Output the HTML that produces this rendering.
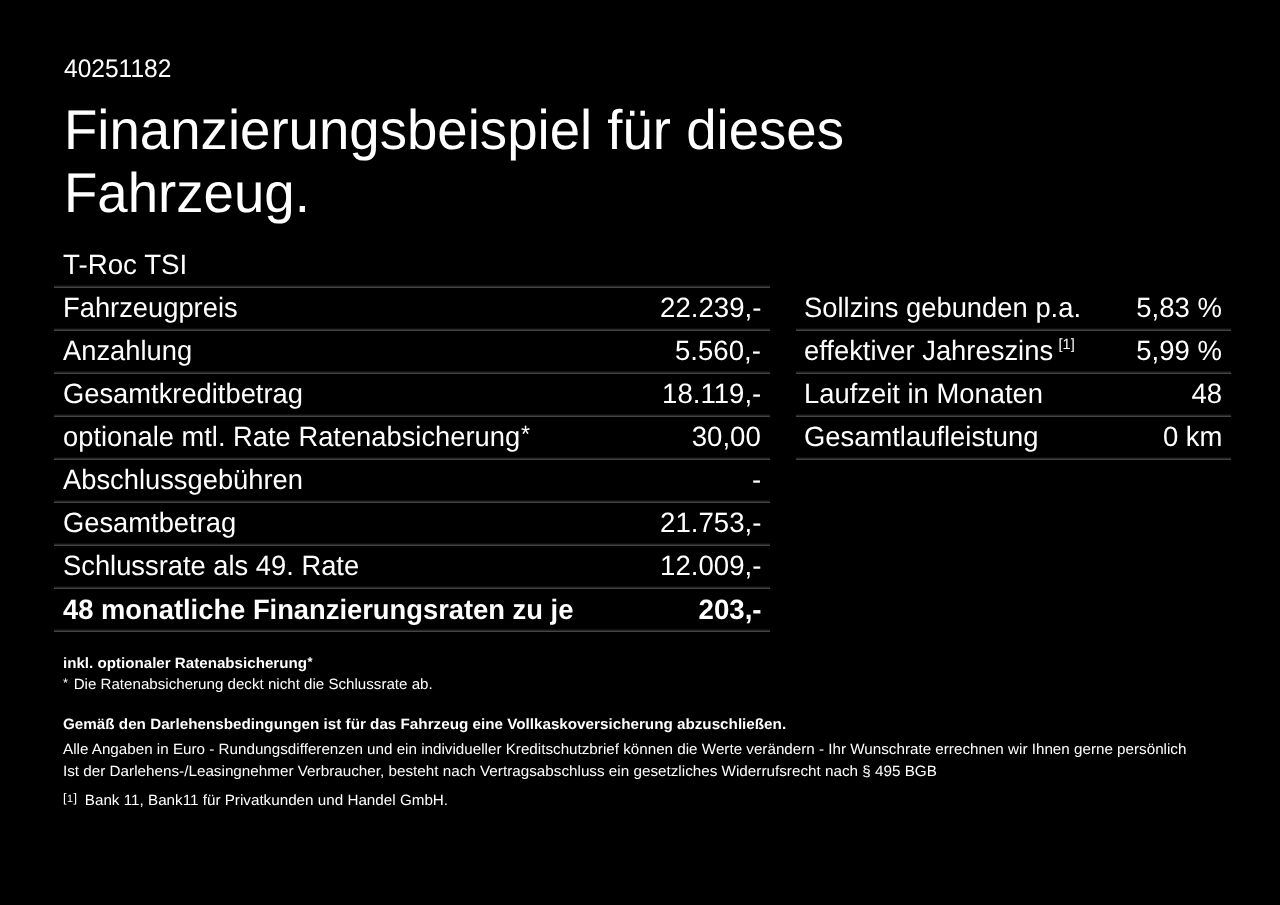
<!DOCTYPE html>
<html lang="de">
<head>
<meta charset="utf-8">
<title>Finanzierungsbeispiel</title>
<style>
html,body{margin:0;padding:0;background:#000;}
body{text-rendering:geometricPrecision;width:1280px;height:905px;overflow:hidden;position:relative;color:#fff;font-family:"Liberation Sans",sans-serif;}
.t{position:absolute;white-space:nowrap;will-change:transform;}
.t>span{display:inline-block;}
.ln{position:absolute;height:3px;background:linear-gradient(#0e0e0e 33.3%, #262626 33.3%, #262626 66.6%, #444444 66.6%);}
.sup1{display:inline-block;font-size:14.9px;vertical-align:top;position:relative;top:-5.3px;margin-left:5.5px;}
.fnb{display:inline-block;font-size:12.5px;position:relative;top:-3px;margin-right:7px;letter-spacing:0.5px;}
.ast{font-size:0.85em;position:relative;top:-0.19em;margin-left:0.04em;}
.a0{margin-left:0;margin-right:1.4px;}
.fn1{font-size:10.5px;vertical-align:top;position:relative;top:1.3px;}
</style>
</head>
<body>
<div class="ln" style="left:54px;top:285px;width:716px;"></div>
<div class="ln" style="left:54px;top:328px;width:716px;"></div>
<div class="ln" style="left:54px;top:371px;width:716px;"></div>
<div class="ln" style="left:54px;top:414px;width:716px;"></div>
<div class="ln" style="left:54px;top:457px;width:716px;"></div>
<div class="ln" style="left:54px;top:500px;width:716px;"></div>
<div class="ln" style="left:54px;top:543px;width:716px;"></div>
<div class="ln" style="left:54px;top:586px;width:716px;"></div>
<div class="ln" style="left:54px;top:629px;width:716px;"></div>
<div class="ln" style="left:796px;top:328px;width:435px;"></div>
<div class="ln" style="left:796px;top:371px;width:435px;"></div>
<div class="ln" style="left:796px;top:414px;width:435px;"></div>
<div class="ln" style="left:796px;top:457px;width:435px;"></div>
<div class="t" style="left:63.9px;top:57.00px;font-size:25.4px;line-height:25.4px;"><span id="num" style="transform:scaleX(0.967);transform-origin:left;">40251182</span></div>
<div class="t" style="left:64.1px;top:102.47px;font-size:55.8px;line-height:55.8px;"><span id="t1" style="transform:scaleX(0.9786);transform-origin:left;">Finanzierungsbeispiel für dieses</span></div>
<div class="t" style="left:64.1px;top:165.27px;font-size:55.8px;line-height:55.8px;"><span id="t2" style="transform:scaleX(0.9786);transform-origin:left;">Fahrzeug.</span></div>
<div class="t" style="left:63.4px;top:251.38px;font-size:27.9px;line-height:27.9px;"><span id="model" style="transform:scaleX(0.994);transform-origin:left;">T-Roc TSI</span></div>
<div class="t" style="left:63.4px;top:294.28px;font-size:27.9px;line-height:27.9px;"><span id="l0" style="transform:scaleX(0.9796);transform-origin:left;">Fahrzeugpreis</span></div>
<div class="t" style="right:519.00px;top:294.28px;font-size:27.9px;line-height:27.9px;"><span id="v0" style="transform:scaleX(0.9895);transform-origin:right;">22.239,-</span></div>
<div class="t" style="left:63.4px;top:337.28px;font-size:27.9px;line-height:27.9px;"><span id="l1" style="transform:scaleX(0.9796);transform-origin:left;">Anzahlung</span></div>
<div class="t" style="right:519.00px;top:337.28px;font-size:27.9px;line-height:27.9px;"><span id="v1" style="transform:scaleX(0.9895);transform-origin:right;">5.560,-</span></div>
<div class="t" style="left:63.4px;top:380.28px;font-size:27.9px;line-height:27.9px;"><span id="l2" style="transform:scaleX(0.9796);transform-origin:left;">Gesamtkreditbetrag</span></div>
<div class="t" style="right:519.00px;top:380.28px;font-size:27.9px;line-height:27.9px;"><span id="v2" style="transform:scaleX(0.9895);transform-origin:right;">18.119,-</span></div>
<div class="t" style="left:63.4px;top:423.28px;font-size:27.9px;line-height:27.9px;"><span id="l3" style="transform:scaleX(0.9796);transform-origin:left;">optionale mtl. Rate Ratenabsicherung<span class="ast">*</span></span></div>
<div class="t" style="right:519.00px;top:423.28px;font-size:27.9px;line-height:27.9px;"><span id="v3" style="transform:scaleX(0.9895);transform-origin:right;">30,00</span></div>
<div class="t" style="left:63.4px;top:466.28px;font-size:27.9px;line-height:27.9px;"><span id="l4" style="transform:scaleX(0.9796);transform-origin:left;">Abschlussgebühren</span></div>
<div class="t" style="right:519.00px;top:466.28px;font-size:27.9px;line-height:27.9px;"><span id="v4" style="transform:scaleX(0.9895);transform-origin:right;">-</span></div>
<div class="t" style="left:63.4px;top:509.28px;font-size:27.9px;line-height:27.9px;"><span id="l5" style="transform:scaleX(0.9796);transform-origin:left;">Gesamtbetrag</span></div>
<div class="t" style="right:519.00px;top:509.28px;font-size:27.9px;line-height:27.9px;"><span id="v5" style="transform:scaleX(0.9895);transform-origin:right;">21.753,-</span></div>
<div class="t" style="left:63.4px;top:552.28px;font-size:27.9px;line-height:27.9px;"><span id="l6" style="transform:scaleX(0.9796);transform-origin:left;">Schlussrate als 49. Rate</span></div>
<div class="t" style="right:519.00px;top:552.28px;font-size:27.9px;line-height:27.9px;"><span id="v6" style="transform:scaleX(0.9895);transform-origin:right;">12.009,-</span></div>
<div class="t" style="left:63.4px;top:595.98px;font-size:27.9px;line-height:27.9px;font-weight:bold;"><span id="l7" style="transform:scaleX(0.98);transform-origin:left;">48 monatliche Finanzierungsraten zu je</span></div>
<div class="t" style="right:518.00px;top:595.98px;font-size:27.9px;line-height:27.9px;font-weight:bold;"><span id="v7" style="transform:scaleX(0.9916);transform-origin:right;">203,-</span></div>
<div class="t" style="left:804px;top:294.28px;font-size:27.9px;line-height:27.9px;"><span id="rl0" style="transform:scaleX(0.9817);transform-origin:left;">Sollzins gebunden p.a.</span></div>
<div class="t" style="right:57.80px;top:294.28px;font-size:27.9px;line-height:27.9px;"><span id="rv0" style="transform:scaleX(0.9854);transform-origin:right;">5,83 %</span></div>
<div class="t" style="left:804px;top:337.28px;font-size:27.9px;line-height:27.9px;"><span id="rl1" style="transform:scaleX(0.9817);transform-origin:left;">effektiver Jahreszins<span class="sup1">[1]</span></span></div>
<div class="t" style="right:57.80px;top:337.28px;font-size:27.9px;line-height:27.9px;"><span id="rv1" style="transform:scaleX(0.9854);transform-origin:right;">5,99 %</span></div>
<div class="t" style="left:804px;top:380.28px;font-size:27.9px;line-height:27.9px;"><span id="rl2" style="transform:scaleX(0.9817);transform-origin:left;">Laufzeit in Monaten</span></div>
<div class="t" style="right:57.80px;top:380.28px;font-size:27.9px;line-height:27.9px;"><span id="rv2" style="transform:scaleX(0.9854);transform-origin:right;">48</span></div>
<div class="t" style="left:804px;top:423.28px;font-size:27.9px;line-height:27.9px;"><span id="rl3" style="transform:scaleX(0.9817);transform-origin:left;">Gesamtlaufleistung</span></div>
<div class="t" style="right:57.80px;top:423.28px;font-size:27.9px;line-height:27.9px;"><span id="rv3" style="transform:scaleX(0.9854);transform-origin:right;">0 km</span></div>
<div class="t" style="left:63.2px;top:657.39px;font-size:14.9px;line-height:14.9px;font-weight:bold;"><span id="s0" style="transform:scaleX(1.0166);transform-origin:left;">inkl. optionaler Ratenabsicherung<span class="ast">*</span></span></div>
<div class="t" style="left:63.2px;top:677.89px;font-size:14.9px;line-height:14.9px;"><span id="s1" style="transform:scaleX(1.0159);transform-origin:left;"><span class="ast a0">*</span> Die Ratenabsicherung deckt nicht die Schlussrate ab.</span></div>
<div class="t" style="left:63.2px;top:717.64px;font-size:14.9px;line-height:14.9px;font-weight:bold;"><span id="s2" style="transform:scaleX(1.0225);transform-origin:left;">Gemäß den Darlehensbedingungen ist für das Fahrzeug eine Vollkaskoversicherung abzuschließen.</span></div>
<div class="t" style="left:63.2px;top:742.79px;font-size:14.9px;line-height:14.9px;"><span id="s3" style="transform:scaleX(1.0212);transform-origin:left;">Alle Angaben in Euro - Rundungsdifferenzen und ein individueller Kreditschutzbrief können die Werte verändern - Ihr Wunschrate errechnen wir Ihnen gerne persönlich</span></div>
<div class="t" style="left:63.2px;top:764.59px;font-size:14.9px;line-height:14.9px;"><span id="s4" style="transform:scaleX(1.024);transform-origin:left;">Ist der Darlehens-/Leasingnehmer Verbraucher, besteht nach Vertragsabschluss ein gesetzliches Widerrufsrecht nach § 495 BGB</span></div>
<div class="t" style="left:63.2px;top:794.19px;font-size:14.9px;line-height:14.9px;"><span id="s5" style="transform:scaleX(1.0223);transform-origin:left;"><span class="fnb">[<span class="fn1">1</span>]</span>Bank 11, Bank11 für Privatkunden und Handel GmbH.</span></div>
</body>
</html>
